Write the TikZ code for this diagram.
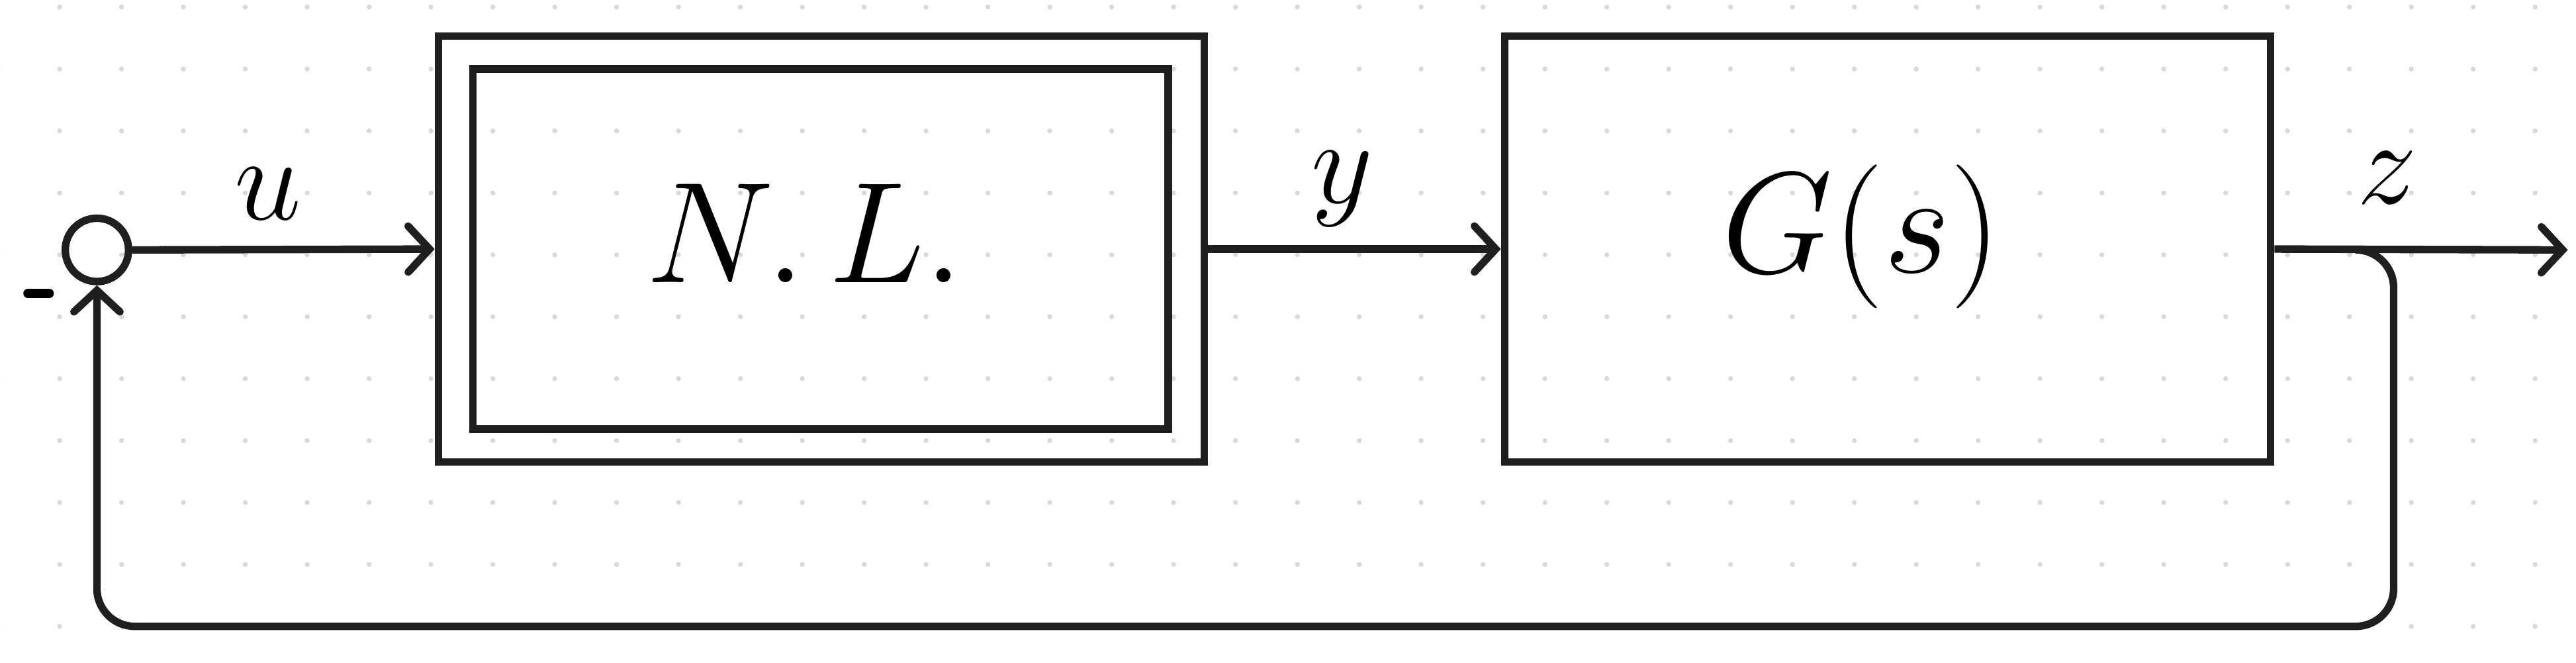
\documentclass[tikz,border=0pt]{standalone}
\usetikzlibrary{arrows.meta}
\begin{document}
\begin{tikzpicture}[x=0.01cm,y=-0.01cm,
  ln/.style={line width=1.3pt,draw={rgb,255:red,32;green,30;blue,30}},
  arr/.style={ln,-{Straight Barb[length=0.13cm,width=0.28cm,line cap=round]}},
  box/.style={ln,rectangle,inner sep=0pt},
  lbl/.style={font=\fontsize{21}{25}\selectfont}]
\useasboundingbox (0,0) rectangle (1568,403);
\foreach \i in {0,...,41}{\foreach \j in {0,...,10}{
  \fill[gray!30] (36.3+37.67*\i-37.67,4.3+37.67*\j) circle (1.5);}}
\node[ln,circle,minimum size=0.385cm,inner sep=0pt] (s) at (59,152) {};
\node[box,minimum width=4.66cm,minimum height=2.59cm] (nlo) at (500,151.5) {};
\node[box,minimum width=4.23cm,minimum height=2.19cm] (nli) at (499.5,151.5) {};
\node[font=\fontsize{26}{31}\selectfont] (nlt) at (490,142) {$N.\,L.$};
\node[box,minimum width=4.66cm,minimum height=2.59cm] (g) at (1149,151.5) {};
\node[font=\fontsize{27}{32}\selectfont] (gt) at (1133,144) {$G(s)$};
\coordinate (out) at (1563,152);
\coordinate (br) at (1435,152);
\coordinate (c1) at (1457,381);
\coordinate (c2) at (59,381);
\draw[arr] (s.east) -- (nlo.west);
\draw[arr] (nlo.east) -- (g.west);
\draw[arr] (g.east) -- (out);
\draw[arr,rounded corners=0.23cm] (br) -| (c1) -- (c2) -- (s.south);
\node[lbl] (u) at (163,118) {$u$};
\node[lbl] (y) at (817,115) {$y$};
\node[lbl] (z) at (1453,108) {$z$};
\draw[line width=1.6pt,line cap=round] (17,178.5) -- (30,178.5);
\end{tikzpicture}
\end{document}
